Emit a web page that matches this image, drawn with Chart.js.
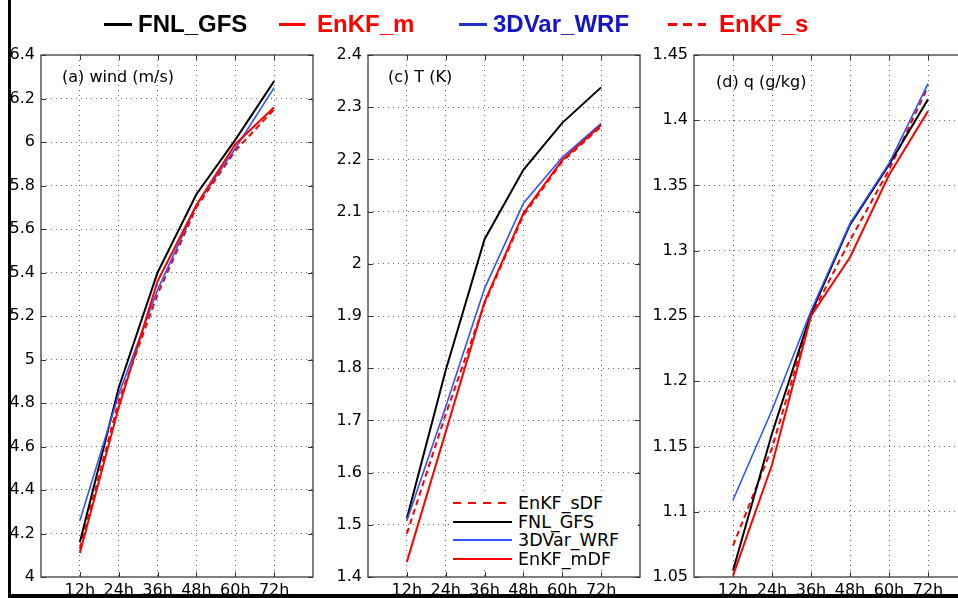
<!DOCTYPE html>
<html>
<head>
<meta charset="utf-8">
<script src="https://cdn.jsdelivr.net/npm/chart.js@4.4.1/dist/chart.umd.min.js"></script>
<style>
html, body { margin: 0; padding: 0; width: 958px; height: 598px; overflow: hidden; background: #fff; }
canvas { position: absolute; top: 0; }
#frame { position: absolute; left: 8px; top: -10px; width: 1000px; height: 604px;
         border-left: 3px solid #000; border-bottom: 4px solid #000; z-index: 10; }
.topItem { position: absolute; top: 9px; font: bold 24px "Liberation Sans", Arial, sans-serif; line-height: 30px; white-space: nowrap; }
.topSeg { position: absolute; top: 23px; height: 3px; }
#leg { position: absolute; left: 450px; top: 493px; width: 188px; height: 76px; background: #fff; z-index: 5; }
.legRow { position: absolute; left: 0; width: 188px; height: 18px; }
.legLine { position: absolute; left: 3px; top: 8px; width: 59px; height: 2px; }
.legText { position: absolute; left: 68px; top: 0; font: 17.5px "DejaVu Sans", sans-serif; line-height: 18px; white-space: nowrap; }
</style>
</head>
<body>
<canvas id="p1" width="320" height="598" style="left:0px"></canvas>
<canvas id="p2" width="325" height="598" style="left:320px"></canvas>
<canvas id="p3" width="330" height="598" style="left:645px"></canvas>
<div id="leg"></div>
<div id="topLegend"></div>
<div id="frame"></div>
<script>
const categories = ['12h', '24h', '36h', '48h', '60h', '72h'];
const seriesNames = ['EnKF_sDF', 'FNL_GFS', '3DVar_WRF', 'EnKF_mDF'];
const topLegendNames = ['FNL_GFS', 'EnKF_m', '3DVar_WRF', 'EnKF_s'];
const panelTitles = ['(a) wind (m/s)', '(c) T (K)', '(d) q (g/kg)'];

// (a) wind
const windEnKFs = [4.13, 4.81, 5.30, 5.70, 5.96, 6.15];
const windFNL   = [4.16, 4.87, 5.40, 5.76, 6.01, 6.28];
const wind3DVar = [4.26, 4.84, 5.32, 5.71, 5.97, 6.25];
const windEnKFm = [4.11, 4.78, 5.36, 5.71, 5.99, 6.16];
const windTicks = [4, 4.2, 4.4, 4.6, 4.8, 5, 5.2, 5.4, 5.6, 5.8, 6, 6.2, 6.4];

// (c) T
const tEnKFs = [1.483, 1.712, 1.924, 2.093, 2.196, 2.263];
const tFNL   = [1.512, 1.796, 2.047, 2.180, 2.270, 2.338];
const t3DVar = [1.508, 1.726, 1.953, 2.116, 2.204, 2.269];
const tEnKFm = [1.429, 1.678, 1.927, 2.097, 2.199, 2.266];
const tTicks = [1.4, 1.5, 1.6, 1.7, 1.8, 1.9, 2, 2.1, 2.2, 2.3, 2.4];

// (d) q
const qEnKFs = [1.074, 1.149, 1.250, 1.308, 1.362, 1.426];
const qFNL   = [1.055, 1.160, 1.252, 1.320, 1.366, 1.416];
const q3DVar = [1.109, 1.178, 1.254, 1.321, 1.367, 1.428];
const qEnKFm = [1.051, 1.136, 1.250, 1.295, 1.358, 1.407];
const qTicks = [1.05, 1.1, 1.15, 1.2, 1.25, 1.3, 1.35, 1.4, 1.45];

const styles = {
  'EnKF_sDF':  { color: '#ff0000', width: 2,   dash: [6, 4], order: 3 },
  'FNL_GFS':   { color: '#000000', width: 2,   dash: [],     order: 2 },
  '3DVar_WRF': { color: '#2f55ff', width: 1.6, dash: [],     order: 1 },
  'EnKF_mDF':  { color: '#ff0000', width: 2,   dash: [],     order: 0 }
};
const topStyles = [
  { text: '#000000', line: '#000000', segX: 104, segW: 28, textX: 138, dashed: false },
  { text: '#ff0000', line: '#ff0000', segX: 279, segW: 26, textX: 317, dashed: false },
  { text: '#1515c8', line: '#2233cc', segX: 459, segW: 28, textX: 493, dashed: false },
  { text: '#ff0000', line: '#ff0000', segX: 668, segW: 38, textX: 719, dashed: true }
];

// box and inward ticks like matlab, plus the panel title
const panelBox = {
  id: 'panelBox',
  afterDraw(chart, args, opts) {
    const { ctx, chartArea: a, scales: { x, y } } = chart;
    ctx.save();
    ctx.strokeStyle = '#555';
    ctx.lineWidth = 1.5;
    ctx.strokeRect(a.left, a.top, a.right - a.left, a.bottom - a.top);
    ctx.lineWidth = 1;
    ctx.strokeStyle = '#333';
    ctx.beginPath();
    x.ticks.forEach(t => {
      const px = Math.round(x.getPixelForValue(t.value)) + 0.5;
      ctx.moveTo(px, a.bottom); ctx.lineTo(px, a.bottom - 5);
      ctx.moveTo(px, a.top); ctx.lineTo(px, a.top + 5);
    });
    y.ticks.forEach(t => {
      const py = Math.round(y.getPixelForValue(t.value)) + 0.5;
      ctx.moveTo(a.left, py); ctx.lineTo(a.left + 5, py);
      ctx.moveTo(a.right, py); ctx.lineTo(a.right - 5, py);
    });
    ctx.stroke();
    ctx.fillStyle = '#000';
    ctx.font = '16px "DejaVu Sans"';
    ctx.textBaseline = 'alphabetic';
    ctx.fillText(opts.title, a.left + opts.dx, a.top + opts.dy);
    ctx.restore();
  }
};

function makePanel(id, values, ticks, title, axisW, padRight, dx, dy) {
  const tickFont = { family: 'DejaVu Sans', size: 16 };
  const lo = ticks[0], hi = ticks[ticks.length - 1];
  return new Chart(document.getElementById(id), {
    type: 'line',
    data: {
      datasets: seriesNames.map((n, k) => ({
        label: n,
        data: values[k].map((v, i) => ({ x: i + 1, y: v })),
        borderColor: styles[n].color,
        borderWidth: styles[n].width,
        borderDash: styles[n].dash,
        order: styles[n].order,
        pointRadius: 0,
        fill: false,
        tension: 0
      }))
    },
    options: {
      responsive: false,
      animation: false,
      events: [],
      layout: { padding: { left: 0, right: padRight, top: 55, bottom: 0 } },
      plugins: {
        legend: { display: false },
        tooltip: { enabled: false },
        panelBox: { title: title, dx: dx, dy: dy }
      },
      scales: {
        x: {
          type: 'linear', min: 0, max: 7,
          afterBuildTicks: s => { s.ticks = categories.map((c, i) => ({ value: i + 1 })); },
          afterFit: s => { s.height = 21; },
          ticks: { callback: v => categories[v - 1], autoSkip: false, maxRotation: 0, padding: 4, color: '#000', font: tickFont },
          grid: { color: '#666', lineWidth: 1, drawTicks: false },
          border: { display: false, dash: [1, 4] }
        },
        y: {
          type: 'linear', min: lo, max: hi,
          afterBuildTicks: s => { s.ticks = ticks.map(v => ({ value: v })); },
          afterFit: s => { s.width = axisW; },
          ticks: { callback: v => String(v), autoSkip: false, padding: 6, color: '#000', font: tickFont },
          grid: {
            color: c => (c.tick && (c.tick.value === lo || c.tick.value === hi)) ? 'rgba(0,0,0,0)' : '#666',
            lineWidth: 1, drawTicks: false
          },
          border: { display: false, dash: [1, 4] }
        }
      }
    },
    plugins: [panelBox]
  });
}

makePanel('p1', [windEnKFs, windFNL, wind3DVar, windEnKFm], windTicks, panelTitles[0], 41, 7, 21, 27);
makePanel('p2', [tEnKFs, tFNL, t3DVar, tEnKFm], tTicks, panelTitles[1], 48, 5, 20, 27);
makePanel('p3', [qEnKFs, qFNL, q3DVar, qEnKFm], qTicks, panelTitles[2], 49, 8, 22, 32);

// legend inside panel (c)
const legBox = document.getElementById('leg');
seriesNames.forEach((n, i) => {
  const row = document.createElement('div');
  row.className = 'legRow';
  row.style.top = (1 + i * 18.5) + 'px';
  const ln = document.createElement('div');
  ln.className = 'legLine';
  const st = styles[n];
  ln.style.background = st.dash.length
    ? 'repeating-linear-gradient(to right, ' + st.color + ' 0 8px, transparent 8px 15px)'
    : st.color;
  if (n === '3DVar_WRF') ln.style.height = '1.6px';
  const tx = document.createElement('div');
  tx.className = 'legText';
  tx.textContent = n;
  row.appendChild(ln);
  row.appendChild(tx);
  legBox.appendChild(row);
});

// legend on top of the figure
const topLeg = document.getElementById('topLegend');
topLegendNames.forEach((n, i) => {
  const s = topStyles[i];
  const seg = document.createElement('div');
  seg.className = 'topSeg';
  seg.style.left = s.segX + 'px';
  seg.style.width = s.segW + 'px';
  seg.style.background = s.dashed
    ? 'repeating-linear-gradient(to right, ' + s.line + ' 0 9px, transparent 9px 15px)'
    : s.line;
  const tx = document.createElement('div');
  tx.className = 'topItem';
  tx.style.left = s.textX + 'px';
  tx.style.color = s.text;
  tx.textContent = n;
  topLeg.appendChild(seg);
  topLeg.appendChild(tx);
});
</script>
</body>
</html>
